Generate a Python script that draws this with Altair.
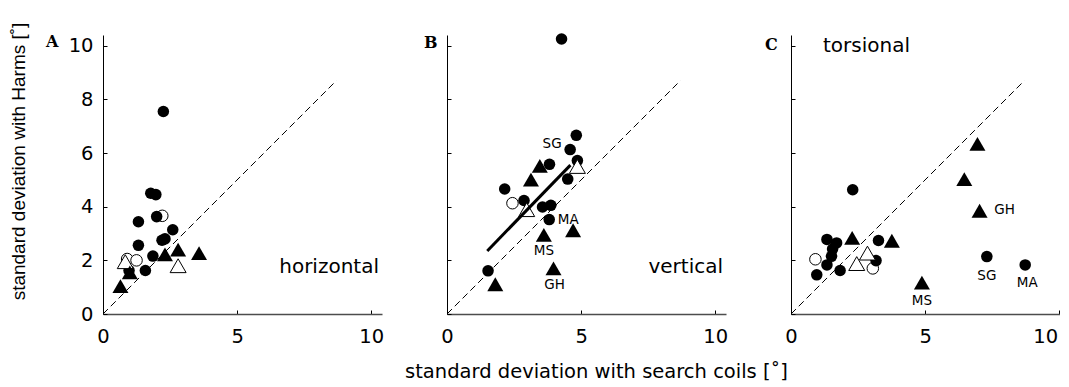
import altair as alt
import pandas as pd

# ---------------- data ----------------
X_TICKS = [0, 5, 10]
Y_TICKS = [0, 2, 4, 6, 8, 10]
DIAG_X = [0, 8.7]
DIAG_Y = [0, 8.7]

# Panel A : horizontal
A_fc_x = [2.25, 1.78, 1.97, 2.0, 1.32, 2.6, 2.31, 2.2, 1.32, 1.86, 1.58, 0.97]
A_fc_y = [7.55, 4.5, 4.45, 3.63, 3.44, 3.14, 2.8, 2.75, 2.56, 2.16, 1.62, 1.62]
A_oc_x = [2.21, 0.9, 1.25]
A_oc_y = [3.66, 2.05, 2.0]
A_ft_x = [0.65, 1.0, 2.31, 2.8, 3.58]
A_ft_y = [1.04, 1.55, 2.22, 2.4, 2.27]
A_ot_x = [2.8, 0.83]
A_ot_y = [1.8, 1.95]

# Panel B : vertical
B_fc_x = [4.27, 4.82, 4.59, 4.86, 3.82, 4.5, 2.15, 2.87, 3.56, 3.87, 3.81, 1.53]
B_fc_y = [10.25, 6.66, 6.13, 5.72, 5.58, 5.03, 4.66, 4.23, 3.99, 4.05, 3.52, 1.61]
B_oc_x = [2.44]
B_oc_y = [4.13]
B_ft_x = [3.13, 3.46, 3.61, 4.7, 3.97, 1.8]
B_ft_y = [5.01, 5.52, 2.95, 3.12, 1.7, 1.11]
B_ot_x = [2.97, 4.86]
B_ot_y = [3.89, 5.5]
B_fit_x = [1.5, 4.6]
B_fit_y = [2.35, 5.55]

# Panel C : torsional
C_fc_x = [2.3, 1.34, 1.7, 1.55, 1.51, 1.34, 0.96, 1.83, 3.26, 3.17, 7.3, 8.73]
C_fc_y = [4.63, 2.78, 2.65, 2.42, 2.15, 1.83, 1.46, 1.62, 2.74, 1.99, 2.14, 1.83]
C_oc_x = [0.91, 3.05]
C_oc_y = [2.04, 1.7]
C_ft_x = [2.28, 3.76, 6.95, 6.46, 7.03, 4.88]
C_ft_y = [2.84, 2.73, 6.34, 5.03, 3.85, 1.17]
C_ot_x = [2.45, 2.85]
C_ot_y = [1.88, 2.27]

# subject labels (attached to points)
B_lab = ["SG", "MA", "MS", "GH"]
B_lab_x = [4.59, 3.81, 3.61, 3.97]
B_lab_y = [6.13, 3.52, 2.95, 1.7]
C_lab = ["GH", "SG", "MA", "MS"]
C_lab_x = [7.03, 7.3, 8.73, 4.88]
C_lab_y = [3.85, 2.14, 1.83, 1.17]

XTITLE = "standard deviation with search coils [˚]"
YTITLE = "standard deviation with Harms [˚]"

# ---------------- styling ----------------
W = 279
H = 279
DOM = [0, 10.4]
SANS = "DejaVu Sans"
LAB_OFF = {
    "B": {"SG": (-18, -6), "MA": (19, 0), "MS": (0, 16), "GH": (1, 17)},
    "C": {"GH": (25, -1), "SG": (0, 19), "MA": (2, 18), "MS": (0, 18)},
}


def df(xs, ys):
    return pd.DataFrame({"x": xs, "y": ys})


def x_enc(show_title, last=False):
    kw = dict(values=X_TICKS, format="d", tickSize={"expr": "-4"}, tickColor="black",
              domainColor="#4d4d4d", domainWidth=1.5, labelPadding=17, labelFontSize=19.5,
              labelFont=SANS, labelColor="black", labelFlush=False, grid=False)
    if last:
        kw.update(labelOffset={"condition": {"test": "datum.value === 10", "value": -14},
                               "value": 0})
    if show_title:
        kw.update(title=XTITLE, titleX=149, titleY=57, titleBaseline="middle",
                  titleFontSize=19.5, titleFont=SANS, titleFontWeight="normal",
                  titleColor="black")
    else:
        kw.update(title=None)
    return alt.X("x:Q", scale=alt.Scale(domain=DOM, nice=False, zero=False),
                 axis=alt.Axis(**kw))


def y_enc(show_labels):
    kw = dict(values=Y_TICKS, tickSize={"expr": "-4"}, tickColor="black",
              domainColor="black", domainWidth=1, grid=False)
    if show_labels:
        kw.update(labelPadding=14, labelFontSize=19.5, labelFont=SANS, labelColor="black",
                  labelFlush=False, title=YTITLE, titleX=-85, titleY=126,
                  titleBaseline="middle", titleAlign="center", titleAngle=-90,
                  titleFontSize=19, titleFont="Liberation Sans",
                  titleFontWeight="normal", titleColor="black")
    else:
        kw.update(labels=False, title=None)
    return alt.Y("y:Q", scale=alt.Scale(domain=DOM, nice=False, zero=False),
                 axis=alt.Axis(**kw))


def panel(key, fc, oc, ft, ot, letter, letter_x, letter_y, word, word_pos, first, middle,
          fit=None, labels=None, last=False):
    X = x_enc(middle, last)
    Y = y_enc(first)
    layers = []
    layers.append(alt.Chart(df(DIAG_X, DIAG_Y)).mark_line(
        color="black", strokeWidth=1, strokeDash=[7, 4]).encode(x=X, y=Y))
    layers.append(alt.Chart(df(*oc)).mark_point(
        shape="circle", size=133, filled=True, fill="white", stroke="black",
        strokeWidth=1, opacity=1).encode(x=X, y=Y))
    layers.append(alt.Chart(df(*fc)).mark_point(
        shape="circle", size=133, filled=True, color="black", opacity=1).encode(x=X, y=Y))
    layers.append(alt.Chart(df(*ot)).mark_point(
        shape="triangle-up", size=256, filled=True, fill="white", stroke="black",
        strokeWidth=1, opacity=1).encode(x=X, y=Y))
    layers.append(alt.Chart(df(*ft)).mark_point(
        shape="triangle-up", size=256, filled=True, color="black", opacity=1).encode(x=X, y=Y))
    if fit is not None:
        layers.append(alt.Chart(df(*fit)).mark_line(
            color="black", strokeWidth=3).encode(x=X, y=Y))
    if labels is not None:
        names, lx, ly = labels
        for n, a, b in zip(names, lx, ly):
            ddx, ddy = LAB_OFF[key][n]
            d = pd.DataFrame({"x": [a], "y": [b], "t": [n]})
            layers.append(alt.Chart(d).mark_text(
                dx=ddx, dy=ddy, font=SANS, fontSize=13.5, color="black",
                align="center", baseline="middle").encode(x=X, y=Y, text="t:N"))
    wx, wy, walign = word_pos
    layers.append(alt.Chart(pd.DataFrame({"t": [word]})).mark_text(
        font=SANS, fontSize=20, color="black", align=walign, baseline="middle").encode(
        x=alt.value(wx), y=alt.value(wy), text="t:N"))
    layers.append(alt.Chart(pd.DataFrame({"t": [letter]})).mark_text(
        font="DejaVu Serif", fontWeight="bold", fontSize=16, color="black",
        align="left", baseline="middle").encode(
        x=alt.value(letter_x), y=alt.value(letter_y), text="t:N"))
    return alt.layer(*layers).properties(width=W, height=H)


pA = panel("A", (A_fc_x, A_fc_y), (A_oc_x, A_oc_y), (A_ft_x, A_ft_y), (A_ot_x, A_ot_y),
           "A", -57, 7, "horizontal", (276, 232, "right"), True, False)
pB = panel("B", (B_fc_x, B_fc_y), (B_oc_x, B_oc_y), (B_ft_x, B_ft_y), (B_ot_x, B_ot_y),
           "B", -23, 8, "vertical", (276, 232, "right"), False, True,
           fit=(B_fit_x, B_fit_y), labels=(B_lab, B_lab_x, B_lab_y))
pC = panel("C", (C_fc_x, C_fc_y), (C_oc_x, C_oc_y), (C_ft_x, C_ft_y), (C_ot_x, C_ot_y),
           "C", -26, 10, "torsional", (32, 11, "left"), False, False,
           labels=(C_lab, C_lab_x, C_lab_y), last=True)

chart = alt.hconcat(pA, pB, pC, spacing=65, bounds="flush").properties(
    padding={"left": 0, "top": 14, "right": -10, "bottom": 0}
).configure_view(strokeWidth=0).configure_axis(grid=False)

chart.save("out.html", embed_options={"renderer": "svg", "actions": False})
